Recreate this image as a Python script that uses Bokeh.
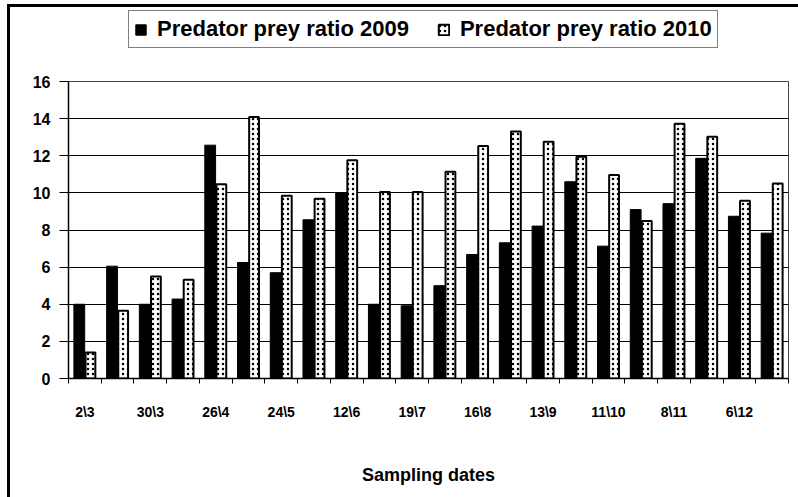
from bokeh.plotting import figure
from bokeh.layouts import column
from bokeh.models import ColumnDataSource, FixedTicker, Legend, LegendItem, Range1d
from bokeh.embed import file_html
from bokeh.resources import INLINE

tick_labels = ["2\\3", "30\\3", "26\\4", "24\\5", "12\\6", "19\\7", "16\\8", "13\\9", "11\\10", "8\\11", "6\\12"]
ratio_2009 = [4.0, 6.05, 4.0, 4.28, 12.57, 6.25, 5.7, 8.55, 10.02, 4.0, 3.92,
              5.0, 6.68, 7.31, 8.21, 10.6, 7.13, 9.1, 9.42, 11.86, 8.74, 7.83]
ratio_2010 = [1.4, 3.65, 5.5, 5.32, 10.47, 14.09, 9.84, 9.69, 11.76, 10.05, 10.05,
              11.14, 12.53, 13.3, 12.76, 11.95, 10.96, 8.48, 13.72, 13.03, 9.57, 10.5]
series_names = ["Predator prey ratio 2009", "Predator prey ratio 2010"]
x_title = "Sampling dates"

n = len(ratio_2009)
idx = list(range(n))
src = ColumnDataSource(dict(
    x09=[i + 0.5 - 0.17 for i in idx],
    x10=[i + 0.5 + 0.17 for i in idx],
    y09=ratio_2009,
    y10=ratio_2010,
))
label_pos = [2 * k + 0.5 for k in range(len(tick_labels))]

FONT = "Liberation Sans"
STYLE09 = dict(fill_color="black", line_color="black")
STYLE10 = dict(fill_color="white", line_color="black", line_width=2, hatch_pattern="dot",
               hatch_color="black", hatch_scale=5, hatch_weight=1.2)

xr = Range1d(0, n)

# main plot
p = figure(width=788, height=446, output_backend="svg", toolbar_location=None,
           x_range=xr, y_range=Range1d(0, 16),
           min_border_left=58, min_border_right=10, min_border_top=30, min_border_bottom=119)

p.vbar(x="x09", top="y09", width=0.33, source=src, **STYLE09)
p.vbar(x="x10", top="y10", width=0.30, source=src, **STYLE10)

xax = p.xaxis[0]
xax.ticker = FixedTicker(ticks=label_pos, minor_ticks=[float(i) for i in range(n + 1)])
xax.major_label_overrides = {pos: lab for pos, lab in zip(label_pos, tick_labels)}
xax.major_tick_out = 0
xax.major_tick_in = 0
xax.minor_tick_out = 5
xax.minor_tick_in = 0
xax.minor_tick_line_color = "black"
xax.axis_line_color = "black"
xax.axis_line_width = 1.5
xax.major_label_standoff = 20
xax.major_label_text_font = FONT
xax.major_label_text_font_style = "bold"
xax.major_label_text_font_size = "14px"
xax.major_label_text_color = "black"
xax.axis_label = x_title
xax.axis_label_text_font = FONT
xax.axis_label_text_font_style = "bold"
xax.axis_label_text_font_size = "18px"
xax.axis_label_text_color = "black"
xax.axis_label_standoff = 42

yax = p.yaxis[0]
yax.ticker = FixedTicker(ticks=list(range(0, 17, 2)))
yax.minor_tick_line_color = None
yax.major_tick_out = 9
yax.major_tick_in = 0
yax.major_label_standoff = 9
yax.axis_line_color = "black"
yax.axis_line_width = 1.5
yax.major_tick_line_color = "black"
yax.major_label_text_font = FONT
yax.major_label_text_font_style = "bold"
yax.major_label_text_color = "black"
yax.major_label_text_font_size = "16px"

p.xgrid.grid_line_color = None
p.ygrid.ticker = FixedTicker(ticks=list(range(0, 17, 2)))
p.ygrid.grid_line_color = "black"
p.ygrid.grid_line_width = 1
p.outline_line_color = "#444444"
p.outline_line_width = 1

# legend strip on top (its bar renderers are hidden; only the legend shows)
lf = figure(width=788, height=44, output_backend="svg", toolbar_location=None,
            x_range=xr, y_range=Range1d(-30, -29),
            min_border=0, outline_line_color=None)
lf.axis.visible = False
lf.grid.visible = False
d09 = lf.vbar(x="x09", top="y09", width=0.33, source=src, visible=False, **STYLE09)
d10 = lf.vbar(x="x10", top="y10", width=0.30, source=src, visible=False, **STYLE10)
legend = Legend(items=[LegendItem(label=series_names[0], renderers=[d09]),
                       LegendItem(label=series_names[1], renderers=[d10])],
                orientation="horizontal", location=(60, 3), click_policy="none",
                label_text_font=FONT, label_text_font_style="bold", label_text_font_size="22px",
                label_text_color="black",
                glyph_width=13, glyph_height=13, label_standoff=10, spacing=28,
                padding=5, margin=0,
                border_line_color="black", border_line_width=1.5, background_fill_color="white")
lf.add_layout(legend, "center")

layout = column(lf, p, spacing=0,
                styles={"margin-left": "7px", "border-left": "3px solid black",
                        "margin-top": "4px", "border-top": "3px solid black"})

open("out.html", "w").write(file_html(layout, INLINE))
